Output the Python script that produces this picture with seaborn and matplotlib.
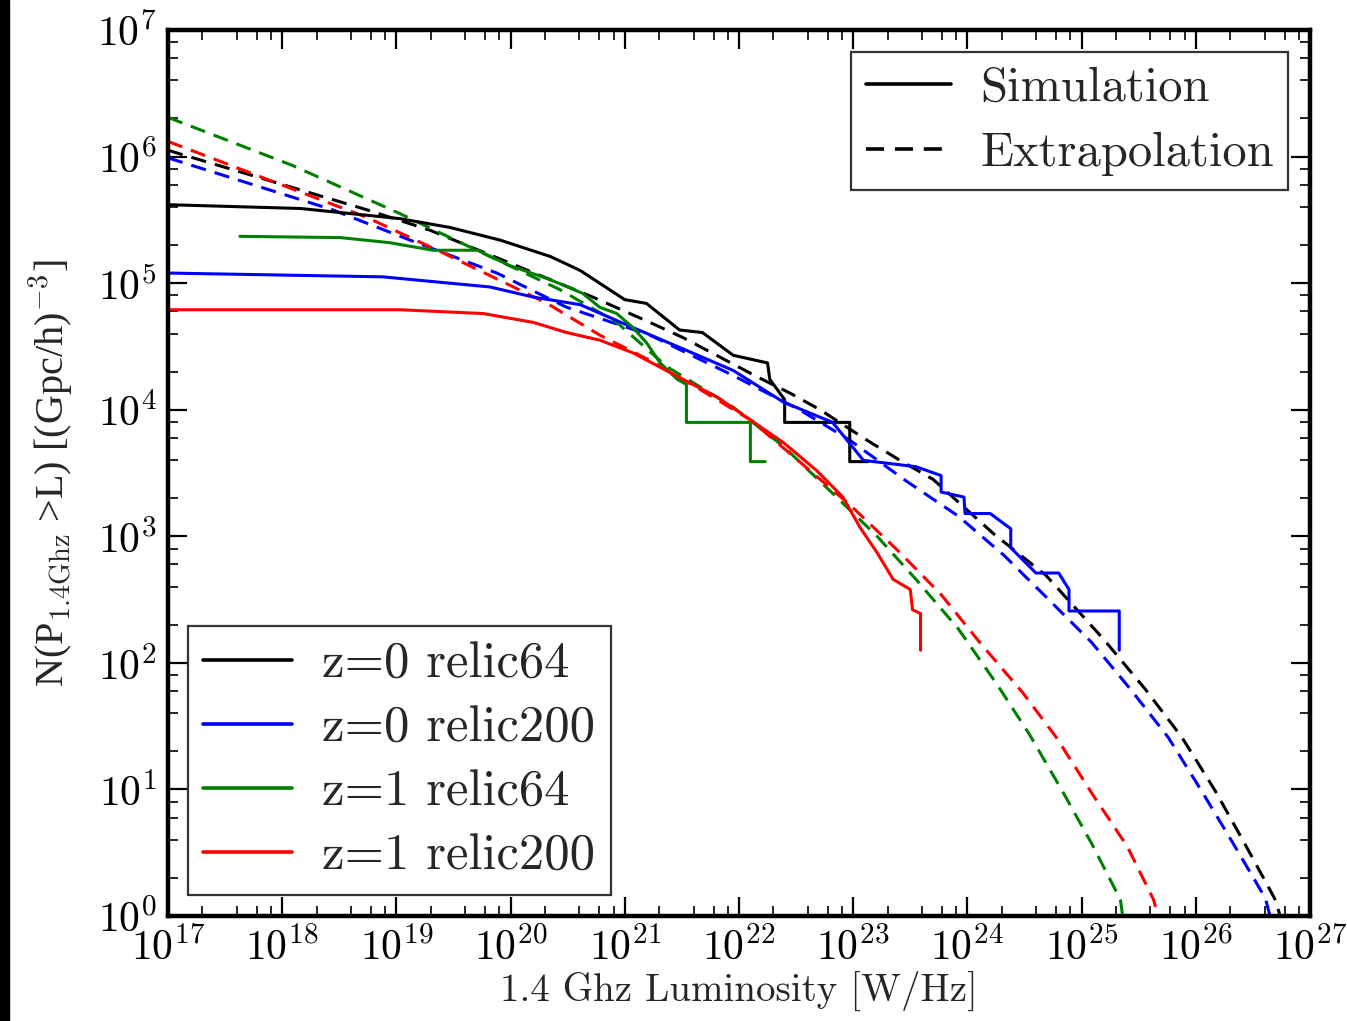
import numpy as np
import matplotlib
matplotlib.use("Agg")
import matplotlib.pyplot as plt
from matplotlib.lines import Line2D
from matplotlib.patches import Rectangle
from matplotlib.ticker import LogLocator, NullFormatter
import seaborn as sns

# ---- cumulative relic luminosity functions (log10 L [W/Hz], log10 N(>L)) ----
# simulated counts
sim_z0_r64_logL = [17.0, 18.16, 19.03, 19.47, 19.91, 20.35, 20.61, 21.0, 21.19, 21.48,
                   21.68, 21.95, 22.25, 22.27, 22.40, 22.40, 22.97, 22.97, 23.13]
sim_z0_r64_logN = [5.62, 5.59, 5.51, 5.44, 5.34, 5.21, 5.10, 4.87, 4.84, 4.63,
                   4.61, 4.43, 4.37, 4.24, 4.08, 3.90, 3.90, 3.59, 3.59]

sim_z0_r200_logL = [17.0, 18.88, 19.82, 20.20, 20.61, 21.07, 21.46, 21.95, 22.39, 22.82,
                    23.09, 23.55, 23.77, 23.77, 23.97, 23.98, 24.20, 24.38, 24.38, 24.60,
                    24.80, 24.89, 24.89, 25.33, 25.33]
sim_z0_r200_logN = [5.08, 5.05, 4.97, 4.89, 4.83, 4.65, 4.50, 4.31, 4.06, 3.90,
                    3.60, 3.55, 3.48, 3.35, 3.31, 3.18, 3.18, 3.06, 2.91, 2.71,
                    2.71, 2.58, 2.41, 2.41, 2.10]

sim_z1_r64_logL = [17.63, 18.51, 18.94, 19.32, 19.71, 19.99, 20.34, 20.63, 20.78, 20.93,
                   21.07, 21.19, 21.31, 21.46, 21.54, 21.54, 22.10, 22.10, 22.23]
sim_z1_r64_logN = [5.37, 5.36, 5.32, 5.26, 5.26, 5.14, 5.03, 4.92, 4.81, 4.76,
                   4.65, 4.53, 4.37, 4.24, 4.20, 3.90, 3.90, 3.59, 3.59]

sim_z1_r200_logL = [17.0, 19.03, 19.76, 20.20, 20.49, 20.78, 21.07, 21.28, 21.51, 21.81,
                    22.10, 22.39, 22.68, 22.91, 23.06, 23.21, 23.35, 23.50, 23.52, 23.59,
                    23.59]
sim_z1_r200_logN = [4.79, 4.79, 4.76, 4.69, 4.61, 4.55, 4.45, 4.35, 4.24, 4.10,
                    3.92, 3.74, 3.52, 3.31, 3.07, 2.87, 2.66, 2.58, 2.42, 2.39,
                    2.10]

# extrapolated fits
ext_z0_r64_logL = [17.0, 18.74, 19.29, 20.72, 21.22, 21.51, 22.16, 22.45, 22.71, 23.12,
                   23.41, 23.70, 24.23, 24.69, 25.19, 25.56, 25.88, 26.17, 26.43, 26.69,
                   26.74]
ext_z0_r64_logN = [6.05, 5.58, 5.42, 4.89, 4.69, 4.57, 4.26, 4.13, 4.00, 3.76,
                   3.60, 3.45, 3.02, 2.69, 2.19, 1.79, 1.41, 0.99, 0.57, 0.14,
                   0.0]

ext_z0_r200_logL = [17.0, 18.44, 19.12, 19.88, 20.49, 21.22, 21.95, 22.53, 22.97, 23.46,
                    23.92, 24.32, 24.69, 25.09, 25.43, 25.76, 26.05, 26.33, 26.61, 26.65]
ext_z0_r200_logN = [5.99, 5.58, 5.34, 5.08, 4.81, 4.59, 4.27, 4.00, 3.76, 3.44,
                    3.16, 2.85, 2.52, 2.16, 1.79, 1.41, 0.99, 0.57, 0.14, 0.0]

ext_z1_r64_logL = [17.0, 18.09, 19.03, 19.47, 20.43, 20.93, 21.37, 21.95, 22.39, 22.82,
                   23.21, 23.55, 23.92, 24.26, 24.54, 24.83, 25.09, 25.34, 25.36]
ext_z1_r64_logN = [6.31, 5.93, 5.55, 5.36, 4.95, 4.69, 4.34, 4.02, 3.71, 3.34,
                   3.00, 2.66, 2.27, 1.83, 1.44, 0.99, 0.57, 0.13, 0.0]

ext_z1_r200_logL = [17.0, 17.87, 18.74, 19.36, 19.82, 20.32, 20.78, 21.22, 21.66, 22.10,
                    22.53, 22.97, 23.40, 23.77, 24.11, 24.48, 24.78, 25.09, 25.40, 25.63,
                    25.67]
ext_z1_r200_logN = [6.12, 5.82, 5.52, 5.26, 5.06, 4.84, 4.59, 4.39, 4.16, 3.92,
                    3.59, 3.25, 2.88, 2.54, 2.16, 1.77, 1.41, 0.97, 0.55, 0.13,
                    0.0]

series_labels = ["z=0 relic64", "z=0 relic200", "z=1 relic64", "z=1 relic200"]
series_colors = ["#000000", "#0000ff", "#008000", "#ff0000"]

sim_curves = [(sim_z0_r64_logL, sim_z0_r64_logN), (sim_z0_r200_logL, sim_z0_r200_logN),
              (sim_z1_r64_logL, sim_z1_r64_logN), (sim_z1_r200_logL, sim_z1_r200_logN)]
ext_curves = [(ext_z0_r64_logL, ext_z0_r64_logN), (ext_z0_r200_logL, ext_z0_r200_logN),
              (ext_z1_r64_logL, ext_z1_r64_logN), (ext_z1_r200_logL, ext_z1_r200_logN)]

# ---- style ----
sns.set_style("ticks")
plt.rcParams["font.family"] = ["cmr10", "DejaVu Serif"]
plt.rcParams["mathtext.fontset"] = "cm"
plt.rcParams["axes.formatter.use_mathtext"] = True
plt.rcParams["axes.unicode_minus"] = False

DASH = (0, (5, 3))
LW = 2.2

fig = plt.figure(figsize=(13.47, 10.21), dpi=100)
ax = fig.add_axes([0.1247, 0.1028, 0.8478, 0.8678])
ax.set_xscale("log")
ax.set_yscale("log")

# extrapolations first, simulations on top
for (lx, ly), c in zip(ext_curves, series_colors):
    sns.lineplot(x=np.power(10.0, lx), y=np.power(10.0, ly), sort=False, estimator=None,
                 color=c, lw=LW, linestyle=DASH, ax=ax, legend=False)
for (lx, ly), c in zip(sim_curves, series_colors):
    sns.lineplot(x=np.power(10.0, lx), y=np.power(10.0, ly), sort=False, estimator=None,
                 color=c, lw=LW, ax=ax, legend=False)

ax.set_xlim(1e17, 1e27)
ax.set_ylim(1e0, 1e7)

for axis in (ax.xaxis, ax.yaxis):
    axis.set_major_locator(LogLocator(base=10, numticks=30))
    axis.set_minor_locator(LogLocator(base=10, subs=[2, 4, 6, 8], numticks=100))
    axis.set_minor_formatter(NullFormatter())

ax.tick_params(which="both", direction="in", top=True, right=True, colors="black")
ax.tick_params(which="major", length=14, width=1.6, labelsize=30, pad=8)
ax.tick_params(which="minor", length=7, width=1.2)
for sp in ax.spines.values():
    sp.set_linewidth(3.2)
    sp.set_color("black")

ax.set_xlabel("1.4 Ghz Luminosity [W/Hz]", fontsize=28, labelpad=2)
ax.set_ylabel(r"N(P$_{\mathrm{1.4Ghz}}$ >L) [(Gpc/h)$^{\mathrm{-3}}$]",
              fontsize=29, labelpad=16, family=["Liberation Serif"])

# line-style key
style_handles = [Line2D([], [], color="black", lw=2.6),
                 Line2D([], [], color="black", lw=2.6, linestyle=DASH)]
leg_style = ax.legend(handles=style_handles, labels=["Simulation", "Extrapolation"],
                      loc="upper right", bbox_to_anchor=(0.981, 0.975), borderaxespad=0,
                      fontsize=35, fancybox=False, framealpha=1, edgecolor="#333333",
                      handlelength=1.75, handletextpad=0.6, labelspacing=0.42,
                      borderpad=0.3)
leg_style.get_frame().set_linewidth(1.6)
ax.add_artist(leg_style)

# run key
run_handles = [Line2D([], [], color=c, lw=2.6) for c in series_colors]
leg_runs = ax.legend(handles=run_handles, labels=series_labels,
                     loc="lower left", bbox_to_anchor=(0.0175, 0.0237), borderaxespad=0,
                     fontsize=36.5, fancybox=False, framealpha=1, edgecolor="#333333",
                     handlelength=1.75, handletextpad=0.6, labelspacing=0.36,
                     borderpad=0.3)
leg_runs.get_frame().set_linewidth(1.6)

# dark strip along the left edge of the figure
fig.add_artist(Rectangle((0, 0), 9 / 1347, 1, transform=fig.transFigure,
                         color="black", zorder=10))

fig.savefig("out.png", dpi=100)
